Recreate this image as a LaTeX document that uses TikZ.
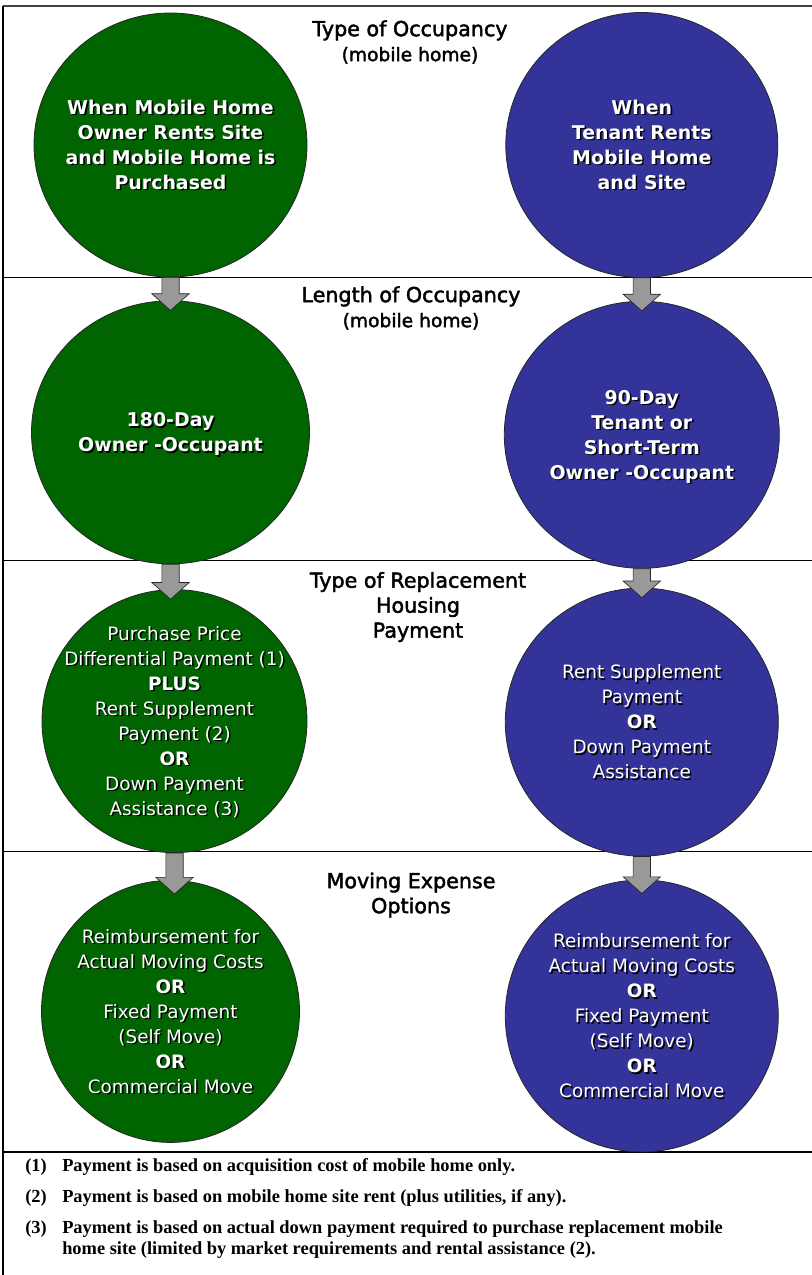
\documentclass[tikz,border=0pt]{standalone}
\usepackage{fontspec}
\setmainfont{DejaVu Sans}
\newfontfamily\notefont{Liberation Serif}
\newfontfamily\titlefont[FakeBold=2]{DejaVu Sans}
\usetikzlibrary{positioning,shapes.geometric,calc}

\definecolor{ownergreen}{RGB}{0,100,0}
\definecolor{tenantblue}{RGB}{51,51,153}
\definecolor{arrowgray}{RGB}{153,153,153}

% white text with a black drop shadow, kept out of the node size
\newcommand{\shadowed}[1]{\smash{\makebox[0pt]{\raisebox{-.35em}{%
  \makebox[0pt][l]{\kern1.2pt\raisebox{-1.2pt}{\color{black}\begin{tabular}{@{}c@{}}#1\end{tabular}}}%
  \begin{tabular}{@{}c@{}}#1\end{tabular}}}}}

\begin{document}
\begin{tikzpicture}[x=0.75pt,y=-0.75pt,
    occ/.style={ellipse,draw=black!85,line width=0.6pt,inner sep=0pt,text=white},
    owner/.style={occ,fill=ownergreen},
    tenant/.style={occ,fill=tenantblue},
    dims/.style 2 args={minimum width=#1*0.75pt,minimum height=#2*0.75pt},
    heading/.style={font=\fontsize{14.2}{18.75}\selectfont\bfseries},
    choice/.style={font=\fontsize{13.8}{18.75}\selectfont},
    title/.style={font=\titlefont\fontsize{15.5}{18.75}\selectfont,align=center},
    note/.style={font=\notefont\bfseries\fontsize{13.8}{15.75}\selectfont,
                 anchor=west,inner sep=0pt,align=left},
    divider/.style={line width=0.75pt},
    blkarrow/.style={draw=black!85,line width=0.5pt,fill=arrowgray,
      to path={let \p1=(\tikztostart), \p2=(\tikztotarget) in
        (\x1-6.5pt,\y1) -- (\x1+6.5pt,\y1) -- (\x1+6.5pt,\y2-#1+12.5pt)
        -- (\x1+14pt,\y2-#1+12.5pt) -- (\x1,\y2-#1) -- (\x1-14pt,\y2-#1+12.5pt)
        -- (\x1-6.5pt,\y2-#1+12.5pt) -- cycle}},
    blkarrow/.default=7.5pt]

  \useasboundingbox (0,0) rectangle (812,1275);

  % frame and section lines
  \draw[line width=1.4pt,black!75] (3,6) -- (812,6);
  \draw[line width=1.4pt] (3,6) -- (3,1275);
  \foreach \y in {277,560,851}
    \draw[divider] (3,\y) -- (812,\y);
  \draw[line width=1.4pt] (3,1152) -- (812,1152);

  % section titles
  \node[title] (t1) at (410,42) {Type of Occupancy\\{\fontsize{14}{18.75}\selectfont(mobile home)}};
  \node[title] (t2) at (411,308) {Length of Occupancy\\{\fontsize{14}{18.75}\selectfont(mobile home)}};
  \node[title] (t3) at (418,607) {Type of Replacement\\Housing\\Payment};
  \node[title] (t4) at (411,895) {Moving Expense\\Options};

  % owner column and tenant column
  \node[owner,heading,dims={273}{264}] (own1) at (170.5,145)
    {\shadowed{When Mobile Home\\Owner Rents Site\\and Mobile Home is\\Purchased}};
  \node[tenant,heading,dims={272}{265}] (ten1) [right=148.5pt of own1]
    {\shadowed{When\\Tenant Rents\\Mobile Home\\and Site}};

  \node[owner,heading,dims={278}{263}] (own2) [below=17.25pt of own1]
    {\shadowed{180-Day\\Owner -Occupant}};
  \node[tenant,heading,dims={275}{267}] (ten2) [below=17.25pt of ten1]
    {\shadowed{90-Day\\Tenant or\\Short-Term\\Owner -Occupant}};

  \node[owner,choice,dims={265}{263}] (own3) [below=18.75pt of own2,xshift=3pt]
    {\shadowed{Purchase Price\\Differential Payment (1)\\\textbf{PLUS}\\Rent Supplement\\Payment (2)\\\textbf{OR}\\Down Payment\\Assistance (3)}};
  \node[tenant,choice,dims={273}{268}] (ten3) [below=14.25pt of ten2]
    {\shadowed{Rent Supplement\\Payment\\\textbf{OR}\\Down Payment\\Assistance}};

  \node[owner,choice,dims={258}{262}] (own4) [below=20.25pt of own3,xshift=-3pt]
    {\shadowed{Reimbursement for\\Actual Moving Costs\\\textbf{OR}\\Fixed Payment\\(Self Move)\\\textbf{OR}\\Commercial Move}};
  \node[tenant,choice,dims={273}{272}] (ten4) [below=17.25pt of ten3]
    {\shadowed{Reimbursement for\\Actual Moving Costs\\\textbf{OR}\\Fixed Payment\\(Self Move)\\\textbf{OR}\\Commercial Move}};

  \path (own1.south) edge[blkarrow] (own2.north)
        (ten1.south) edge[blkarrow] (ten2.north)
        (own2.south) edge[blkarrow] (own3.north)
        (ten2.south) edge[blkarrow] (ten3.north)
        (own3.south) edge[blkarrow=10.5pt] (own4.north)
        (ten3.south) edge[blkarrow=10.5pt] (ten4.north);

  % footnotes
  \node[note] (n1) at (25,1167) {\makebox[27.75pt][l]{(1)}Payment is based on acquisition cost of mobile home only.};
  \node[note] (n2) at (25,1198) {\makebox[27.75pt][l]{(2)}Payment is based on mobile home site rent (plus utilities, if any).};
  \node[note] (n3) at (25,1239.5) {\makebox[27.75pt][l]{(3)}Payment is based on actual down payment required to purchase replacement mobile\\
    \hspace*{27.75pt}home site (limited by market requirements and rental assistance (2).};
\end{tikzpicture}
\end{document}
